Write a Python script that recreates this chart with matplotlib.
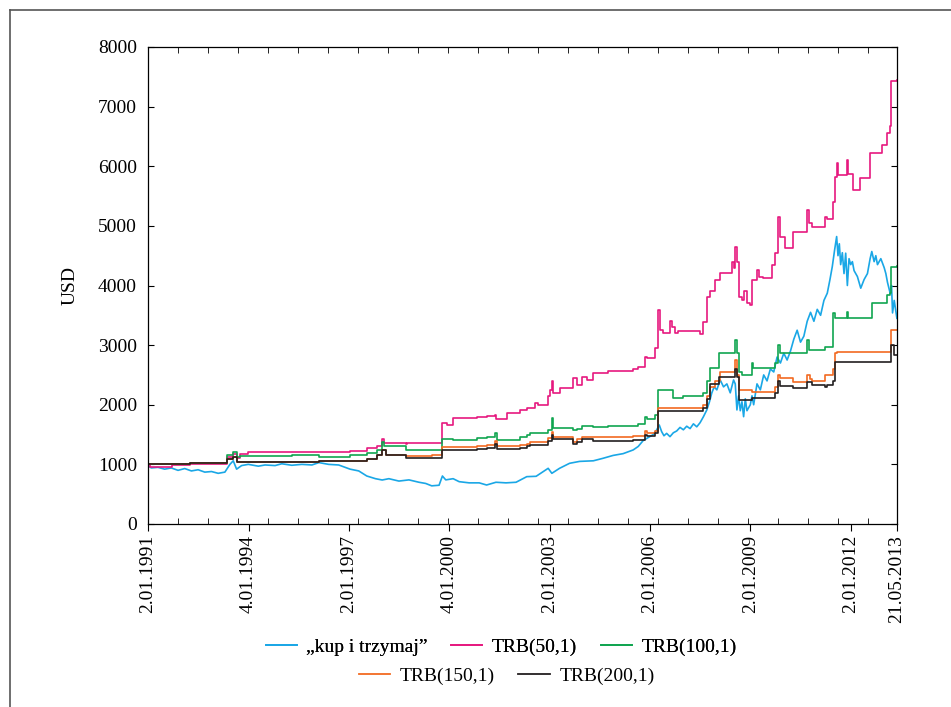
import matplotlib
matplotlib.use("Agg")
import matplotlib.pyplot as plt
from matplotlib.lines import Line2D
import datetime as dt

plt.rcParams['font.family'] = ['Liberation Serif', 'DejaVu Serif']

# --- data (decimal year, USD) ---
kup_t = [1991.00, 1991.10, 1991.30, 1991.50, 1991.70, 1991.90, 1992.10, 1992.30, 1992.50, 1992.70,
         1992.90, 1993.10, 1993.30, 1993.45, 1993.55, 1993.65, 1993.80, 1994.00, 1994.30, 1994.50,
         1994.80, 1995.00, 1995.30, 1995.60, 1995.90, 1996.11, 1996.40, 1996.70, 1997.04, 1997.30,
         1997.54, 1997.80, 1998.00, 1998.20, 1998.50, 1998.80, 1999.10, 1999.30, 1999.48, 1999.70,
         1999.80, 1999.90, 2000.12, 2000.30, 2000.60, 2000.90, 2001.12, 2001.40, 2001.70, 2002.00,
         2002.32, 2002.60, 2002.96, 2003.07, 2003.30, 2003.60, 2003.90, 2004.31, 2004.60, 2004.90,
         2005.20, 2005.50, 2005.65, 2005.80, 2005.95, 2006.10, 2006.20, 2006.28, 2006.35, 2006.42,
         2006.50, 2006.60, 2006.70, 2006.80, 2006.90, 2007.00, 2007.10, 2007.20, 2007.30, 2007.40,
         2007.50, 2007.60, 2007.70, 2007.78, 2007.85, 2007.92, 2008.00, 2008.10, 2008.20, 2008.30,
         2008.40, 2008.50, 2008.55, 2008.60, 2008.65, 2008.70, 2008.75, 2008.80, 2008.85, 2008.90,
         2009.00, 2009.05, 2009.10, 2009.20, 2009.30, 2009.40, 2009.50, 2009.60, 2009.70, 2009.80,
         2009.90, 2010.00, 2010.10, 2010.20, 2010.30, 2010.40, 2010.50, 2010.60, 2010.70, 2010.80,
         2010.90, 2011.00, 2011.10, 2011.20, 2011.30, 2011.38, 2011.45, 2011.52, 2011.58, 2011.62,
         2011.66, 2011.70, 2011.75, 2011.80, 2011.85, 2011.90, 2011.95, 2012.00, 2012.05, 2012.10,
         2012.20, 2012.30, 2012.40, 2012.50, 2012.58, 2012.63, 2012.70, 2012.75, 2012.80, 2012.90,
         2013.00, 2013.05, 2013.10, 2013.18, 2013.22, 2013.25, 2013.30, 2013.34, 2013.38]
kup_v = [980, 940, 950, 920, 940, 900, 930, 890, 910, 870,
         880, 850, 870, 1000, 1060, 920, 980, 1000, 970, 990,
         980, 1010, 985, 1000, 990, 1030, 1000, 990, 920, 890,
         805, 760, 738, 760, 720, 740, 700, 680, 640, 650,
         805, 740, 760, 710, 690, 690, 654, 700, 690, 700,
         794, 800, 934, 850, 934, 1018, 1050, 1060, 1102, 1150,
         1180, 1242, 1300, 1400, 1450, 1500, 1577, 1660, 1550, 1480,
         1520, 1465, 1530, 1560, 1620, 1580, 1640, 1600, 1680, 1630,
         1700, 1800, 1913, 2050, 2200, 2300, 2250, 2416, 2300, 2350,
         2200, 2416, 2350, 1913, 2150, 1900, 2050, 1800, 2100, 1900,
         2000, 2150, 2000, 2350, 2250, 2500, 2400, 2600, 2550, 2800,
         2700, 2864, 2750, 2900, 3100, 3250, 3050, 3150, 3400, 3550,
         3400, 3600, 3500, 3750, 3871, 4100, 4318, 4600, 4821, 4500,
         4700, 4350, 4550, 4200, 4542, 4000, 4450, 4350, 4400, 4250,
         4150, 3955, 4100, 4200, 4450, 4570, 4400, 4500, 4350, 4450,
         4300, 4200, 4050, 3870, 4000, 3540, 3750, 3600, 3450]

trb50_t = [1991.00, 1991.06, 1991.72, 1992.26, 1992.91, 1993.36, 1993.54, 1993.66, 1993.75, 1993.99,
           1995.30, 1996.11, 1997.04, 1997.54, 1997.84, 1997.99, 1998.05, 1998.71, 1998.75, 1999.78,
           1999.93, 2000.12, 2000.82, 2001.12, 2001.37, 2001.40, 2001.72, 2002.12, 2002.32, 2002.57,
           2002.67, 2002.96, 2003.00, 2003.07, 2003.11, 2003.31, 2003.71, 2003.81, 2003.96, 2004.11,
           2004.31, 2004.76, 2005.50, 2005.65, 2005.85, 2005.90, 2006.15, 2006.25, 2006.30, 2006.40,
           2006.60, 2006.65, 2006.75, 2006.85, 2007.50, 2007.60, 2007.70, 2007.80, 2007.95, 2008.10,
           2008.45, 2008.50, 2008.55, 2008.60, 2008.65, 2008.75, 2008.80, 2008.90, 2009.00, 2009.04,
           2009.19, 2009.25, 2009.39, 2009.64, 2009.74, 2009.84, 2009.89, 2010.04, 2010.29, 2010.69,
           2010.74, 2010.84, 2011.23, 2011.28, 2011.48, 2011.53, 2011.58, 2011.63, 2011.88, 2011.93,
           2012.08, 2012.28, 2012.58, 2012.93, 2013.08, 2013.18, 2013.21, 2013.30, 2013.38]
trb50_v = [1000, 960, 985, 1000, 1010, 1120, 1170, 1100, 1170, 1200,
           1215, 1200, 1230, 1270, 1310, 1425, 1354, 1340, 1364, 1700,
           1660, 1780, 1800, 1810, 1830, 1760, 1857, 1913, 1940, 2025,
           1990, 2150, 2249, 2400, 2200, 2277, 2445, 2330, 2470, 2420,
           2529, 2567, 2600, 2640, 2800, 2780, 2948, 3591, 3255, 3200,
           3400, 3300, 3200, 3230, 3180, 3395, 3814, 3900, 4094, 4207,
           4400, 4300, 4653, 4400, 3814, 3750, 3900, 3703, 3680, 4094,
           4262, 4150, 4123, 4346, 4542, 5157, 4821, 4626, 4905, 5269,
           5050, 4989, 5150, 5113, 5400, 5828, 6053, 5856, 6100, 5870,
           5605, 5801, 6220, 6360, 6556, 6667, 7422, 7422, 7450]

trb100_t = [1991.00, 1991.72, 1992.26, 1992.91, 1993.36, 1993.54, 1993.66, 1993.75, 1995.30, 1996.11,
            1997.04, 1997.54, 1997.84, 1997.99, 1998.05, 1998.71, 1999.78, 2000.12, 2000.82, 2001.12,
            2001.37, 2001.42, 2002.12, 2002.32, 2002.42, 2002.96, 2003.07, 2003.11, 2003.71, 2003.81,
            2003.96, 2004.31, 2004.76, 2005.65, 2005.85, 2005.90, 2006.15, 2006.25, 2006.70, 2007.00,
            2007.60, 2007.70, 2007.80, 2008.05, 2008.55, 2008.60, 2008.65, 2008.75, 2009.04, 2009.08,
            2009.74, 2009.84, 2009.89, 2010.69, 2010.74, 2011.23, 2011.48, 2011.53, 2011.88, 2011.93,
            2012.63, 2013.08, 2013.18, 2013.21, 2013.38]
trb100_v = [1000, 1010, 1020, 1030, 1160, 1213, 1124, 1146, 1160, 1120,
            1150, 1190, 1240, 1380, 1300, 1240, 1420, 1410, 1437, 1460,
            1520, 1410, 1460, 1490, 1522, 1580, 1773, 1616, 1580, 1600,
            1650, 1633, 1640, 1680, 1800, 1760, 1820, 2249, 2109, 2150,
            2200, 2400, 2612, 2875, 3088, 2875, 2550, 2500, 2700, 2612,
            2700, 3000, 2864, 3088, 2920, 2970, 3535, 3452, 3550, 3452,
            3703, 3843, 3870, 4318, 4330]

trb150_t = [1991.00, 1991.72, 1992.26, 1992.91, 1993.36, 1993.54, 1993.66, 1995.30, 1996.11, 1997.04,
            1997.54, 1997.84, 1997.99, 1998.10, 1998.71, 1999.48, 1999.78, 2000.82, 2001.12, 2001.37,
            2001.42, 2002.12, 2002.32, 2002.42, 2002.96, 2003.07, 2003.11, 2003.71, 2003.81, 2003.96,
            2004.31, 2005.50, 2005.85, 2005.90, 2006.15, 2006.25, 2007.60, 2007.70, 2007.80, 2007.95,
            2008.10, 2008.55, 2008.60, 2008.65, 2009.04, 2009.74, 2009.84, 2009.89, 2010.29, 2010.69,
            2010.79, 2010.84, 2011.23, 2011.48, 2011.53, 2011.58, 2013.21, 2013.38]
trb150_v = [1000, 1010, 1020, 1030, 1085, 1130, 1040, 1045, 1050, 1060,
            1085, 1150, 1242, 1158, 1140, 1160, 1297, 1310, 1330, 1400,
            1300, 1330, 1350, 1381, 1440, 1549, 1465, 1381, 1420, 1465,
            1455, 1470, 1560, 1520, 1560, 1941, 2000, 2150, 2304, 2400,
            2556, 2752, 2500, 2249, 2220, 2300, 2500, 2445, 2388, 2500,
            2430, 2400, 2500, 2600, 2864, 2892, 3255, 3260]

trb200_t = [1991.00, 1991.72, 1992.26, 1992.91, 1993.36, 1993.54, 1993.66, 1995.30, 1996.11, 1997.04,
            1997.54, 1997.84, 1997.99, 1998.10, 1998.71, 1999.78, 2000.82, 2001.12, 2001.37, 2001.42,
            2002.12, 2002.32, 2002.42, 2002.96, 2003.07, 2003.11, 2003.71, 2003.81, 2003.96, 2004.31,
            2005.50, 2005.85, 2005.90, 2006.15, 2006.25, 2007.60, 2007.70, 2007.80, 2008.05, 2008.55,
            2008.60, 2008.65, 2009.04, 2009.74, 2009.84, 2009.89, 2010.29, 2010.69, 2010.84, 2011.23,
            2011.28, 2011.48, 2011.53, 2013.21, 2013.30, 2013.38]
trb200_v = [1000, 1010, 1020, 1030, 1085, 1130, 1040, 1045, 1050, 1060,
            1085, 1150, 1242, 1158, 1102, 1242, 1260, 1280, 1350, 1250,
            1280, 1300, 1330, 1390, 1500, 1420, 1340, 1380, 1420, 1398,
            1410, 1500, 1470, 1520, 1902, 1950, 2100, 2350, 2472, 2600,
            2472, 2081, 2109, 2200, 2400, 2316, 2277, 2380, 2332, 2300,
            2330, 2400, 2724, 3004, 2836, 2840]

date_labels = ["2.01.1991", "4.01.1994", "2.01.1997", "4.01.2000", "2.01.2003",
               "2.01.2006", "2.01.2009", "2.01.2012", "21.05.2013"]
series_names = ["\u201ekup i trzymaj\u201d", "TRB(50,1)", "TRB(100,1)", "TRB(150,1)", "TRB(200,1)"]
colors = ["#1aa7e6", "#e6197f", "#10a550", "#f26a21", "#231f20"]


def to_year(s):
    d = dt.datetime.strptime(s, "%d.%m.%Y")
    return d.year + (d.timetuple().tm_yday - 1) / 365.25


fig = plt.figure(figsize=(9.51, 7.07), dpi=100)
ax = fig.add_axes([148 / 951, 1 - 524 / 707, (897 - 148) / 951, (524 - 47) / 707])

ax.plot(kup_t, kup_v, color=colors[0], lw=1.2)
ax.plot(trb50_t, trb50_v, color=colors[1], lw=1.2, drawstyle="steps-post")
ax.plot(trb100_t, trb100_v, color=colors[2], lw=1.2, drawstyle="steps-post")
ax.plot(trb150_t, trb150_v, color=colors[3], lw=1.2, drawstyle="steps-post")
ax.plot(trb200_t, trb200_v, color=colors[4], lw=1.2, drawstyle="steps-post")

x0, x1 = to_year(date_labels[0]), to_year(date_labels[-1])
ax.set_xlim(x0, x1)
ax.set_ylim(0, 8000)
ax.set_yticks(range(0, 8001, 1000))
ax.set_xticks([to_year(s) for s in date_labels])
ax.set_xticklabels(date_labels, rotation=90, fontsize=14)
ax.set_xticks([x0 + k * (x1 - x0) * 30 / 749 for k in range(25)], minor=True)

ax.tick_params(axis="y", direction="in", left=True, right=True, length=4, labelsize=14, pad=8)
ax.tick_params(axis="x", which="major", direction="out", length=5, pad=3)
ax.tick_params(axis="x", which="minor", direction="in", top=True, bottom=True, length=4)
for sp in ax.spines.values():
    sp.set_linewidth(0.9)
ax.set_ylabel("USD", fontsize=14, labelpad=14)

# legend in two centred rows
h = [Line2D([], [], color=c, lw=1.3) for c in colors]
leg1 = fig.legend(h[:3], series_names[:3], loc="center", bbox_to_anchor=(0.527, 1 - 647 / 707),
                  ncol=3, frameon=False, fontsize=14, handlelength=1.6, handletextpad=0.5,
                  columnspacing=1.2, borderpad=0)
leg2 = fig.legend(h[3:], series_names[3:], loc="center", bbox_to_anchor=(0.533, 1 - 676 / 707),
                  ncol=2, frameon=False, fontsize=14, handlelength=1.6, handletextpad=0.5,
                  columnspacing=1.2, borderpad=0)
fig.add_artist(leg1)

# page frame (left and top edges)
fig.add_artist(Line2D([10 / 951, 10 / 951], [0, 1 - 10 / 707], color="#555555", lw=1.2))
fig.add_artist(Line2D([10 / 951, 1], [1 - 10 / 707, 1 - 10 / 707], color="#555555", lw=1.2))

fig.savefig("out.png", dpi=100)
